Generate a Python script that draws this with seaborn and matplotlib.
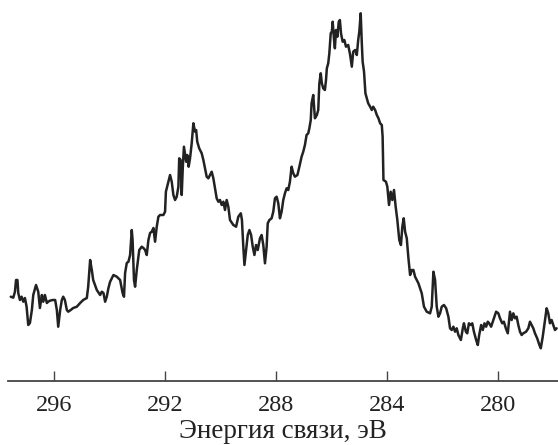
import matplotlib
matplotlib.use("Agg")
import matplotlib.pyplot as plt
import seaborn as sns
import pandas as pd

energy = [
297.57,297.48,297.42,297.38,297.33,297.30,297.24,297.18,297.12,297.06,297.00,296.94,296.88,296.81,296.76,296.66,296.58,296.52,296.45,296.40,
296.34,296.27,296.22,296.16,296.06,295.97,295.91,295.86,295.79,295.73,295.68,295.62,295.55,295.50,295.41,295.32,295.19,295.07,294.96,294.83,
294.78,294.71,294.65,294.60,294.47,294.35,294.29,294.23,294.17,294.11,294.05,
293.99,293.87,293.75,293.63,293.54,293.49,293.45,293.39,293.33,293.27,293.21,293.18,293.13,293.09,293.03,292.94,292.85,292.79,292.73,292.67,
292.61,292.55,292.49,292.43,292.37,292.31,292.25,292.19,292.07,292.01,291.98,291.89,291.83,291.77,291.71,291.65,291.59,291.53,291.50,291.45,
291.41,291.37,291.33,291.25,291.21,291.16,291.11,291.05,290.99,290.93,290.89,290.85,290.78,290.69,290.63,290.57,290.51,290.45,290.39,290.33,
290.27,290.21,290.15,290.09,290.03,289.97,289.91,289.85,289.79,289.73,
289.67,289.55,289.45,289.37,289.28,289.24,289.19,289.15,289.09,289.03,288.97,288.91,288.85,288.79,288.73,288.67,288.59,288.53,288.47,288.41,
288.35,288.31,288.25,288.17,288.11,288.05,287.99,287.93,287.87,287.81,287.75,287.69,287.63,287.57,287.51,287.45,287.39,287.33,287.24,287.17,
287.09,287.03,286.97,286.91,286.85,
286.81,286.76,286.73,286.67,286.61,286.54,286.49,286.45,286.40,286.36,286.31,286.25,286.21,286.18,286.13,286.09,286.04,286.00,285.97,285.92,
285.89,285.85,285.80,285.75,285.71,285.67,285.61,285.55,285.49,285.41,285.34,285.28,285.23,285.16,285.10,285.05,285.01,284.96,284.92,284.89,
284.84,284.79,284.74,284.69,284.62,284.56,284.51,284.44,284.38,284.32,284.26,
284.20,284.17,284.14,284.05,284.00,283.94,283.88,283.82,283.76,283.70,283.64,283.57,283.51,283.46,283.41,283.36,283.30,283.24,283.18,283.12,
283.06,283.00,282.88,282.76,282.68,282.58,282.46,282.40,282.34,282.28,282.22,282.16,
282.10,282.04,281.96,281.88,281.80,281.74,281.68,281.62,281.56,281.50,281.44,281.35,281.28,281.24,281.17,281.12,281.06,280.99,280.94,280.88,
280.80,280.74,280.69,280.62,280.56,280.50,280.44,280.38,280.33,280.26,280.18,280.08,280.00,279.94,279.86,279.80,279.73,279.66,279.58,279.52,
279.46,279.40,279.34,279.28,279.22,279.16,279.10,279.00,278.92,278.86,278.80,278.74,278.68,278.60,278.52,278.47,278.40,278.32,278.26,278.20,
278.14,278.08,278.02,277.96,277.90,
]

intensity = [
84.3,83.3,89.3,101,101,88,81,84.3,79.3,83,74.3,56,58,71,86,96,89.3,73,86,79.3,
86,78,79.3,80.3,81,81,71,54.3,71,81,84.3,81,71,69.3,71,73,74.3,78,81,83,
94.3,121,111,101,91,86,89.3,88,79.3,84.3,93,
99.3,106,104.3,101,88,84.3,108,118,119.3,126,151,141,101,94.3,111,131,134.3,133,131,126,
141,148,149.3,153,139.3,154.3,164.3,166,166,169.3,189.3,199.3,206,199.3,186,181,184.3,194.3,222.7,221,
186,214.3,234.3,219.3,226,214.3,222.7,237.7,257.7,249.3,251,239.3,232.7,227.7,221,212.7,204.3,202.7,206,209.3,
202.7,192.7,182.7,179.3,181,176,179.3,171,181,174.3,
161,156,154.3,164.3,167.7,161,134.3,116,131,146,151,146,134.3,126,136,131,142.7,146,136,117.7,
134.3,157.7,161,162.7,169.3,182.7,184.3,177.7,162.7,169.3,181,187.7,192.7,191,199.3,214.3,207.7,204.3,206,214.3,
224.3,229.3,236,246,247.7,
252.7,261,277.7,286,262.7,266,271,297.7,307.7,297.7,292.7,291,301,312.7,317.7,327.7,347.7,349.3,359.3,341,
332.7,351,344.3,359.3,361,347.7,339.3,341,334.3,336,326,314.3,329.3,331,326,341,349.3,367.7,337.7,319.3,
309.3,287.7,282.7,277.7,274.3,271,274.3,271,266,262.7,257.7,
256,244.3,201,199.3,194.3,176,189.3,181,191,174.3,161,141,136,154.3,162.7,149.3,142.7,122.7,106,111,
111,104.3,97.7,87.7,74.3,69.3,67.7,74.3,109.3,101,74.3,64.3,
67.7,74.3,76,72.7,64.3,52.7,51,54.3,49.3,52.7,46,41,52.7,57.7,49.3,47.7,57.7,56,57.7,49.3,
41,36,46,56,51,57.7,54.3,59.3,57.7,54.3,61,69.3,67.7,62.7,57.7,59.3,52.7,47.7,69.3,61,
67.7,62.7,64.3,56,49.3,46,47.7,49.3,52.7,59.3,56,52.7,47.7,42.7,36,32.7,44.3,61,72.7,67.7,
57.7,61,56,51,52.7,
]

xticks = [296, 292, 288, 284, 280]
xlabel = "Энергия связи, эВ"

df = pd.DataFrame({"energy": energy, "intensity": intensity})

sns.set_style("white")
plt.rcParams["font.family"] = ["Liberation Serif", "DejaVu Serif"]

fig = plt.figure(figsize=(5.58, 4.45), dpi=100)
ax = fig.add_axes([8 / 558, 64 / 445, 550 / 558, 381 / 445])
sns.lineplot(data=df, x="energy", y="intensity", ax=ax, color="#222222",
             linewidth=1.8, sort=False, estimator=None)

ax.set_xlim(297.67, 277.85)
ax.set_ylim(0, 381)
ax.set_xticks(xticks)
ax.set_xticklabels([str(t) for t in xticks])
ax.set_yticks([])
ax.set_ylabel("")
ax.set_xlabel(xlabel, fontsize=19.5, labelpad=2.5, color="#222222")
for s in ["top", "left", "right"]:
    ax.spines[s].set_visible(False)
ax.spines["bottom"].set_color("#444444")
ax.spines["bottom"].set_linewidth(1.3)
ax.tick_params(axis="x", direction="in", length=7, width=1.0, color="#444444",
               labelsize=17.5, pad=10, labelcolor="#222222", bottom=True)
ax.patch.set_alpha(0)

fig.savefig("out.png", dpi=100)
